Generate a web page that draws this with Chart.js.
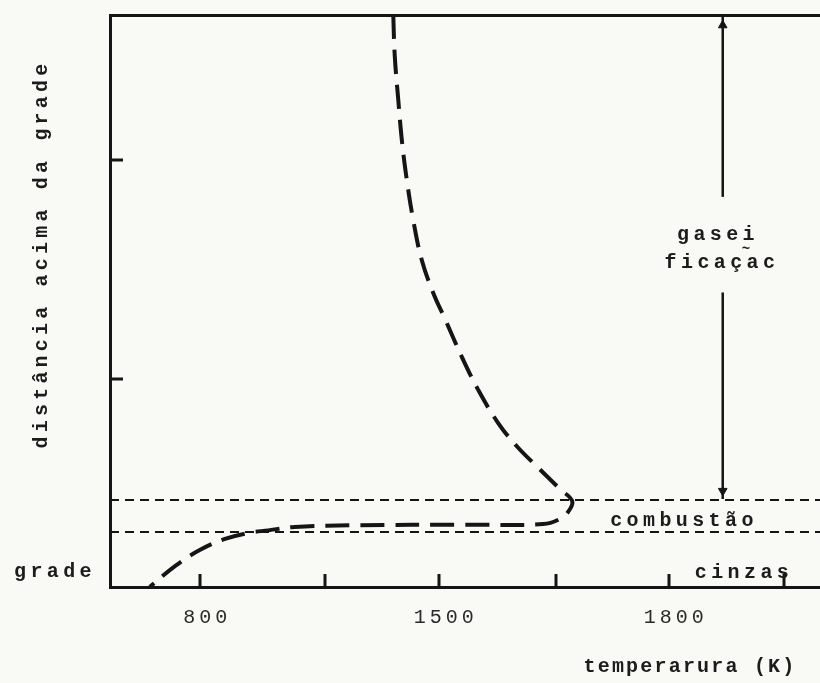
<!DOCTYPE html>
<html>
<head>
<meta charset="utf-8">
<script src="https://cdn.jsdelivr.net/npm/chart.js@4/dist/chart.umd.min.js"></script>
<style>
  html, body { margin: 0; padding: 0; background: #f9f9f6; overflow: hidden; width: 820px; height: 683px; }
  #wrap { width: 826px; height: 683px; position: relative; }
</style>
</head>
<body>
<div id="wrap"><canvas id="c"></canvas></div>
<script>
// ---- data (schematic units: x 0..100 along the temperature axis, y 0..100 above the grate) ----
const xTickValues = [12.7, 30.3, 46.3, 62.8, 78.7, 94.9];
const xTickLabels = ['800', '', '1500', '', '1800', ''];
const yTickValues = [36.3, 74.7];

// temperature profile (x = temperature position, y = height above grate)
const profileX = [39.9, 40.1, 40.6, 41.1, 41.8, 42.7, 43.9, 45.5, 47.2, 49.6, 51.8, 54.6, 57.3, 60.1, 63.4, 65.1, 64.5, 63.4, 61.0, 50.0, 35.0, 26.0, 22.3, 19.7, 16.2, 12.7, 9.2, 5.6];
const profileY = [100, 93.0, 85.2, 78.2, 71.2, 64.2, 57.2, 51.5, 46.8, 40.1, 34.6, 28.8, 24.6, 21.1, 17.1, 15.0, 13.1, 11.9, 11.0, 10.9, 10.8, 10.5, 9.9, 9.5, 8.4, 6.5, 3.7, 0];

// zone boundaries (heights)
const combustionTop = 15.2;
const combustionBottom = 9.6;

// gasification arrow
const arrowX = 86.3;
const arrowUpperY = [68.2, 100];
const arrowLowerY = [51.5, 15.4];
const arrowHeadY = [98.2, 16.8];
const arrowHeadRot = [0, 180];

const INK = '#151515';

const hLine = (y) => [{x: 0, y: y}, {x: 100, y: y}];

const datasets = [
  {
    data: hLine(combustionTop), showLine: true, borderColor: INK, borderWidth: 2,
    borderDash: [9, 6], pointRadius: 0
  },
  {
    data: hLine(combustionBottom), showLine: true, borderColor: INK, borderWidth: 2,
    borderDash: [9, 6], pointRadius: 0
  },
  {
    data: arrowUpperY.map(y => ({x: arrowX, y})), showLine: true, borderColor: INK,
    borderWidth: 2.5, pointRadius: 0
  },
  {
    data: arrowLowerY.map(y => ({x: arrowX, y})), showLine: true, borderColor: INK,
    borderWidth: 2.5, pointRadius: 0
  },
  {
    data: arrowHeadY.map(y => ({x: arrowX, y})), showLine: false,
    pointStyle: 'triangle', pointRotation: arrowHeadRot, pointRadius: 5,
    backgroundColor: INK, borderColor: INK, borderWidth: 1
  },
  {
    data: profileX.map((x, i) => ({x, y: profileY[i]})), showLine: true,
    borderColor: INK, borderWidth: 4, borderDash: [24, 11], tension: 0.4,
    pointRadius: 0, borderCapStyle: 'butt'
  }
];

const decor = {
  id: 'decor',
  beforeDraw(chart) {
    chart.ctx.letterSpacing = '4px';
  },
  afterDatasetsDraw(chart) {
    const ctx = chart.ctx, a = chart.chartArea;
    const xs = chart.scales.x, ys = chart.scales.y;
    ctx.save();
    ctx.strokeStyle = INK;
    ctx.lineWidth = 3;
    ctx.beginPath();
    xTickValues.forEach(v => {
      const px = Math.round(xs.getPixelForValue(v));
      ctx.moveTo(px, a.bottom); ctx.lineTo(px, a.bottom - 13);
    });
    yTickValues.forEach(v => {
      const py = Math.round(ys.getPixelForValue(v));
      ctx.moveTo(a.left, py); ctx.lineTo(a.left + 13, py);
    });
    ctx.stroke();
    ctx.restore();
  },
  afterDraw(chart) {
    const ctx = chart.ctx;
    ctx.save();
    ctx.fillStyle = '#1c1c1c';
    ctx.textAlign = 'center';
    ctx.textBaseline = 'middle';
    ctx.font = 'bold 20px "Liberation Mono"';
    ctx.letterSpacing = '4.4px';
    ctx.fillText('grade', 55, 572);
    ctx.fillText('combustão', 684, 521);
    ctx.fillText('cinzas', 744, 573);
    ctx.fillText('gasei', 718, 235);
    ctx.fillText('ficaçac', 722, 263);
    ctx.letterSpacing = '2.2px';
    ctx.fillText('temperarura (K)', 690, 667);
    ctx.font = 'bold 14px "Liberation Mono"';
    ctx.letterSpacing = '0px';
    ctx.fillText('~', 746, 249);
    ctx.save();
    ctx.translate(42, 254);
    ctx.rotate(-Math.PI / 2);
    ctx.font = 'bold 20px "Liberation Mono"';
    ctx.letterSpacing = '4.2px';
    ctx.fillText('distância acima da grade', 0, 0);
    ctx.restore();
    ctx.restore();
    ctx.letterSpacing = '0px';
  }
};

new Chart(document.getElementById('c'), {
  type: 'scatter',
  data: { datasets },
  plugins: [decor],
  options: {
    responsive: true,
    maintainAspectRatio: false,
    animation: false,
    layout: { padding: 0 },
    plugins: { legend: { display: false }, tooltip: { enabled: false } },
    scales: {
      x: {
        type: 'linear', position: 'bottom', min: 0, max: 100,
        afterBuildTicks: s => { s.ticks = xTickValues.map(v => ({ value: v })); },
        afterFit: s => { s.height = 96; },
        grid: { display: false, drawTicks: false },
        border: { display: true, color: INK, width: 3 },
        ticks: {
          padding: 19, labelOffset: 7, color: '#2a2a2a',
          font: { family: '"Liberation Mono"', size: 20 },
          maxRotation: 0, autoSkip: false,
          callback: (v, i) => xTickLabels[i]
        }
      },
      x2: {
        type: 'linear', position: 'top', min: 0, max: 100,
        afterFit: s => { s.height = 15; },
        grid: { display: false, drawTicks: false },
        border: { display: true, color: INK, width: 3 },
        ticks: { display: false }
      },
      y: {
        type: 'linear', position: 'left', min: 0, max: 100,
        afterBuildTicks: s => { s.ticks = yTickValues.map(v => ({ value: v })); },
        afterFit: s => { s.width = 110; },
        grid: { display: false, drawTicks: false },
        border: { display: true, color: INK, width: 3 },
        ticks: { display: false }
      }
    }
  }
});
</script>
</body>
</html>
